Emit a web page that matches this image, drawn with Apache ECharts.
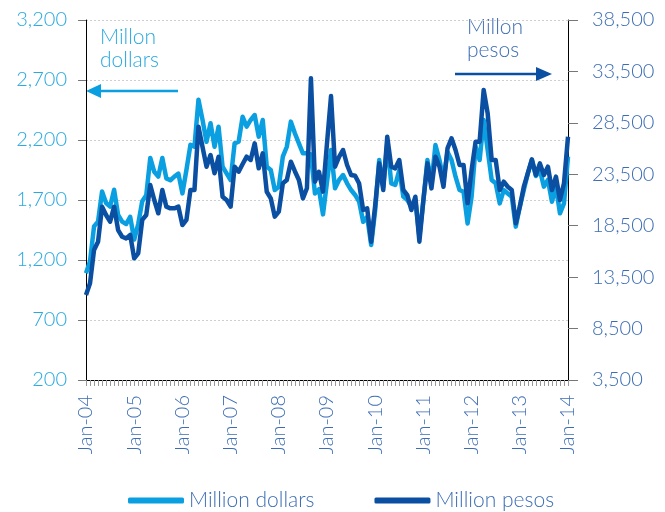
<!DOCTYPE html>
<html><head><meta charset="utf-8">
<script src="https://cdn.jsdelivr.net/npm/echarts@6/dist/echarts.min.js"></script>
<style>html,body{margin:0;padding:0;background:#fff}#c{width:665px;height:512px}</style>
</head><body><div id="c"></div>
<script>
const monthNames = ['Jan','Feb','Mar','Apr','May','Jun','Jul','Aug','Sep','Oct','Nov','Dec'];
const years = ['04','05','06','07','08','09','10','11','12','13','14'];
const categories = [];
years.forEach(y => monthNames.forEach(m => categories.push(m + '-' + y)));
categories.length = 121; // Jan-04 .. Jan-14

const leftTicks = [200, 700, 1200, 1700, 2200, 2700, 3200];
const rightTicks = [3500, 8500, 13500, 18500, 23500, 28500, 33500, 38500];

const millionDollars = [
  1090,1190,1480,1520,1770,1675,1645,1785,1575,1520,1500,1560,
  1370,1500,1690,1740,2050,1935,1895,2050,1880,1865,1895,1920,
  1755,1950,2160,2145,2535,2370,2185,2340,2144,2311,1978,1922,
  1867,2172,2186,2394,2311,2367,2408,2228,2367,1978,1950,1783,
  1811,2061,2144,2353,2256,2172,2089,2089,2080,1755,1790,1580,
  1850,2117,1797,1867,1908,1839,1783,1742,1686,1519,1560,1325,
  1617,2033,1811,2172,1839,1825,1950,1728,1700,1645,1700,1394,
  1700,2033,1839,2158,2033,1867,2100,2033,1894,1783,1769,1505,
  1728,2144,2033,2367,2117,1867,1839,1672,1783,1755,1728,1478,
  1645,1783,1922,2033,1900,1950,1811,1867,1686,1811,1589,1672,
  2061
];
const millionPesos = [
  11760,12900,16140,16950,20350,19540,18890,20350,18080,17430,17270,17600,
  15330,15820,19060,19540,22460,21000,19710,21970,20350,20190,20190,20350,
  18570,19060,21970,21970,28130,26180,24240,25370,23600,25210,21320,21000,
  20350,24240,23750,24500,25210,24890,26510,24080,25540,21800,21160,19380,
  19870,22620,22950,24720,23800,22950,21160,22140,32830,22780,23750,21810,
  26500,31100,24240,25200,25860,24400,23430,23350,22600,20030,20190,16950,
  20500,24560,21970,27150,24240,24080,24890,21970,21480,20030,21320,16950,
  21000,24560,22130,25210,24240,22290,26020,27000,25860,24400,24400,20680,
  23920,26670,26670,31700,29430,24890,24890,21970,22780,22290,21970,18730,
  20350,22290,23600,24950,23430,24560,23430,24240,21970,23270,21000,22620,
  27150
];

const LIGHT = '#0a9fe0', DARK = '#0b4fa2', LBL_L = '#29a9e1', LBL_R = '#3c6db4';
const FONT = 'Lato';
const fmt = v => v.toLocaleString('en-US');

const chart = echarts.init(document.getElementById('c'), null, {renderer: 'canvas'});
chart.setOption({
  animation: false,
  textStyle: {fontFamily: FONT, fontWeight: 300},
  grid: {left: 86, right: 97, top: 20, bottom: 132},
  legend: {
    top: 490, left: 128, padding: 0, itemGap: 60, itemWidth: 56, itemHeight: 6,
    icon: 'roundRect',
    textStyle: {fontSize: 21, color: LBL_R, fontFamily: FONT, fontWeight: 300},
    data: ['Million dollars', 'Million pesos']
  },
  xAxis: {
    type: 'category', data: categories, boundaryGap: false,
    axisLine: {show: true, lineStyle: {color: '#000', width: 1}},
    axisTick: {show: true, interval: 0, length: 6, lineStyle: {color: '#999'}},
    axisLabel: {interval: 11, rotate: 90, fontSize: 20, color: LBL_R, margin: 15, fontFamily: FONT, fontWeight: 300},
    splitLine: {show: false}
  },
  yAxis: [{
    type: 'value', min: leftTicks[0], max: leftTicks[leftTicks.length-1], interval: 500,
    axisLine: {show: true, lineStyle: {color: '#000'}},
    axisTick: {show: true, length: 8, lineStyle: {color: '#777'}},
    axisLabel: {formatter: fmt, fontSize: 20, color: LBL_L, margin: 19, fontFamily: FONT, fontWeight: 300},
    splitLine: {show: true, lineStyle: {color: '#cfcfcf', type: [2, 2]}}
  }, {
    type: 'value', min: rightTicks[0], max: rightTicks[rightTicks.length-1], interval: 5000,
    axisLine: {show: true, lineStyle: {color: '#000'}},
    axisTick: {show: true, length: 10, lineStyle: {color: '#777'}},
    axisLabel: {formatter: fmt, fontSize: 20, color: LBL_R, margin: 24, fontFamily: FONT, fontWeight: 300},
    splitLine: {show: false}
  }],
  series: [{
    name: 'Million dollars', type: 'line', yAxisIndex: 0, data: millionDollars,
    symbol: 'none', itemStyle: {color: LIGHT},
    lineStyle: {color: LIGHT, width: 4.5, join: 'round'}
  }, {
    name: 'Million pesos', type: 'line', yAxisIndex: 1, data: millionPesos,
    symbol: 'none', itemStyle: {color: DARK},
    lineStyle: {color: DARK, width: 4.5, join: 'round'}
  }],
  graphic: [
    {type: 'text', left: 100, top: 26, style: {text: 'Millon\ndollars', fill: LBL_L, font: '300 21px Lato', lineHeight: 23}},
    {type: 'line', shape: {x1: 98, y1: 91, x2: 178, y2: 91}, style: {stroke: LIGHT, lineWidth: 2.5}},
    {type: 'polygon', shape: {points: [[86, 91], [101, 84], [101, 98]]}, style: {fill: LIGHT}},
    {type: 'text', left: 467, top: 16, style: {text: 'Millon\npesos', fill: LBL_R, font: '300 21px Lato', lineHeight: 23, align: 'center'}},
    {type: 'line', shape: {x1: 455, y1: 74, x2: 540, y2: 74}, style: {stroke: DARK, lineWidth: 2.5}},
    {type: 'polygon', shape: {points: [[552, 74], [536, 67], [536, 81]]}, style: {fill: DARK}}
  ]
});
</script></body></html>
